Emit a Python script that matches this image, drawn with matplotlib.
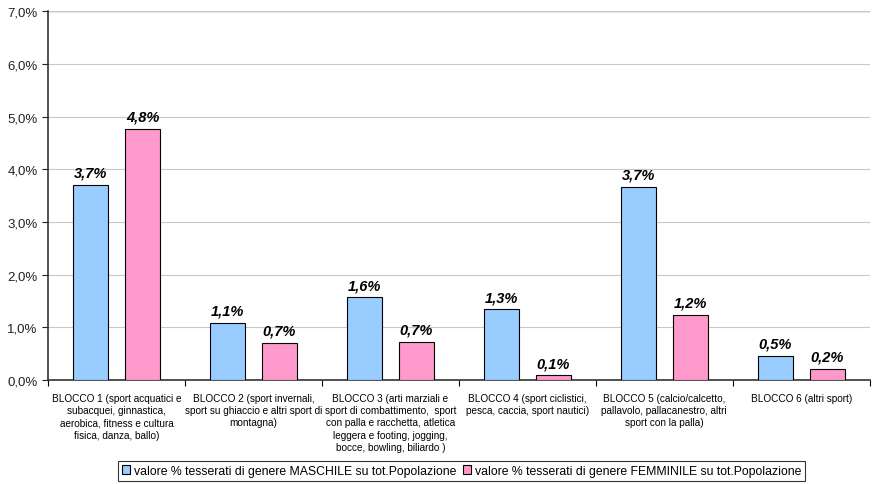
import matplotlib
matplotlib.use("Agg")
import matplotlib.pyplot as plt
import matplotlib.ticker as mticker
import numpy as np

plt.rcParams["font.family"] = ["Liberation Sans", "DejaVu Sans"]

categories = [
    "BLOCCO 1 (sport acquatici e\nsubacquei, ginnastica,\naerobica, fitness e cultura\nfisica, danza, ballo)",
    "BLOCCO 2 (sport invernali,\nsport su ghiaccio e altri sport di\nmontagna)",
    "BLOCCO 3 (arti marziali e\nsport di combattimento,  sport\ncon palla e racchetta, atletica\nleggera e footing, jogging,\nbocce, bowling, biliardo )",
    "BLOCCO 4 (sport ciclistici,\npesca, caccia, sport nautici)",
    "BLOCCO 5 (calcio/calcetto,\npallavolo, pallacanestro, altri\nsport con la palla)",
    "BLOCCO 6 (altri sport)",
]
maschile = [3.70, 1.08, 1.57, 1.34, 3.66, 0.46]
femminile = [4.77, 0.70, 0.73, 0.09, 1.24, 0.21]
maschile_lbl = ["3,7%", "1,1%", "1,6%", "1,3%", "3,7%", "0,5%"]
femminile_lbl = ["4,8%", "0,7%", "0,7%", "0,1%", "1,2%", "0,2%"]

BLUE = "#99ccff"
PINK = "#ff99cc"

fig = plt.figure(figsize=(8.74, 4.85), dpi=100)
ax = fig.add_axes([0.055, 0.2144, 0.94, 0.7606])

x = np.arange(len(categories))
w = 0.255
off = 0.19
b1 = ax.bar(x - off, maschile, w, color=BLUE, edgecolor="black", linewidth=0.8,
            label="valore % tesserati di genere MASCHILE su tot.Popolazione", zorder=3)
b2 = ax.bar(x + off, femminile, w, color=PINK, edgecolor="black", linewidth=0.8,
            label="valore % tesserati di genere FEMMINILE su tot.Popolazione", zorder=3)

for bars, lbls in ((b1, maschile_lbl), (b2, femminile_lbl)):
    for rect, lb in zip(bars, lbls):
        ax.text(rect.get_x() + rect.get_width() / 2, rect.get_height() + 0.1, lb,
                ha="center", va="bottom", fontsize=10.5, fontweight="bold",
                fontstyle="italic", zorder=4)

ax.set_xlim(-0.5, len(categories) - 0.5)
ax.set_ylim(0, 7)
ax.yaxis.set_major_locator(mticker.MultipleLocator(1))
ax.yaxis.set_major_formatter(mticker.FuncFormatter(lambda v, p: f"{v:.1f}%".replace(".", ",")))
ax.grid(axis="y", color="#c8c8c8", linewidth=0.8, zorder=0)

ax.set_xticks(x)
ax.set_xticklabels(categories, fontsize=7.2, linespacing=1.3)
ax.set_xticks(np.arange(-0.5, len(categories)), minor=True)
ax.tick_params(axis="x", which="major", length=0, pad=9)
ax.tick_params(axis="x", which="minor", length=4, direction="out", width=0.8)
ax.tick_params(axis="y", labelsize=9.5, length=4, width=0.8, colors="#222222")

for side in ("top", "right"):
    ax.spines[side].set_visible(False)
ax.spines["left"].set_color("#333333")
ax.spines["left"].set_linewidth(1.2)
ax.spines["bottom"].set_color("#333333")
ax.spines["bottom"].set_linewidth(1.2)
ax.axhline(7, color="#888888", linewidth=1.0, zorder=1)

leg = fig.legend(loc="center", bbox_to_anchor=(0.528, 0.027), ncol=2, fontsize=8.8,
                 frameon=True, fancybox=False, edgecolor="black", handlelength=0.7,
                 handleheight=0.7, handletextpad=0.3, columnspacing=0.5,
                 borderpad=0.3, borderaxespad=0)
leg.get_frame().set_linewidth(0.8)

fig.savefig("out.png", dpi=100)
